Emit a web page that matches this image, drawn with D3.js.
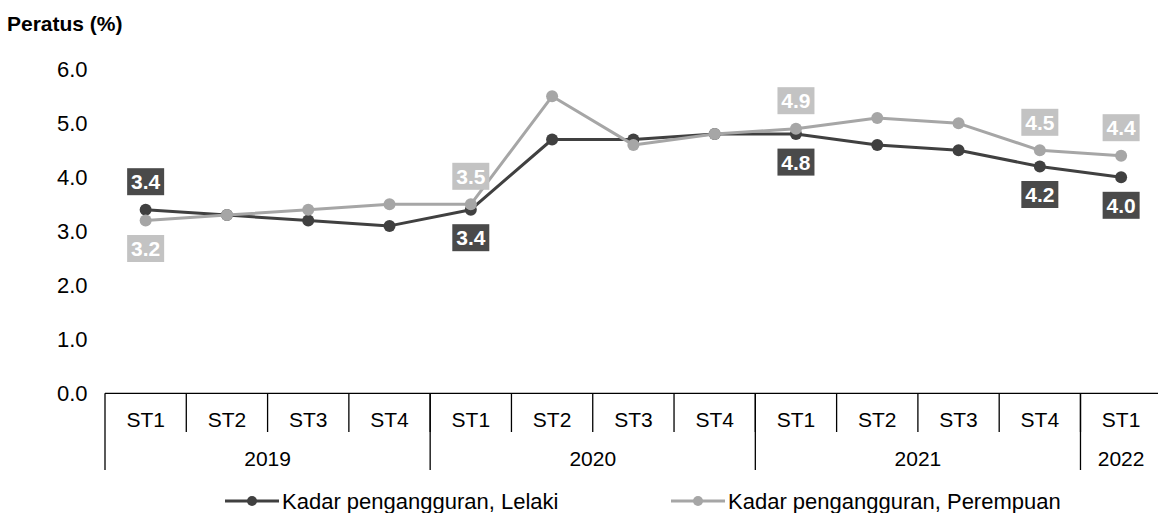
<!DOCTYPE html>
<html>
<head>
<meta charset="utf-8">
<script src="https://cdn.jsdelivr.net/npm/d3@7"></script>
<style>
  body { margin: 0; background: #fff; }
  text { font-family: "Liberation Sans", Arial, sans-serif; }
</style>
</head>
<body>
<div id="chart"></div>
<script>
const w = 1158;
const h = 513;

// data
const quarters = ["ST1","ST2","ST3","ST4","ST1","ST2","ST3","ST4","ST1","ST2","ST3","ST4","ST1"];
const years = ["2019","2020","2021","2022"];
const yearSpan = [4, 4, 4, 1];
const lelaki = [3.4,3.3,3.2,3.1,3.4,4.7,4.7,4.8,4.8,4.6,4.5,4.2,4.0];
const perempuan = [3.2,3.3,3.4,3.5,3.5,5.5,4.6,4.8,4.9,5.1,5.0,4.5,4.4];
const yTicks = [0,1,2,3,4,5,6];
const seriesNames = ["Kadar pengangguran, Lelaki", "Kadar pengangguran, Perempuan"];

// which points carry a value label (-1 above, +1 below)
const lelakiLabels = [[0,-1],[4,1],[8,1],[11,1],[12,1]];
const perempuanLabels = [[0,1],[4,-1],[8,-1],[11,-1],[12,-1]];

const darkLine = "#404040", lightLine = "#a6a6a6";
const darkBox = "#4a4a4a", lightBox = "#c3c3c3";

const left = 105, bandW = 81.29;
const axisY = 393.3;

const x = d3.scaleBand()
    .domain(d3.range(quarters.length))
    .range([left, left + bandW * quarters.length])
    .paddingInner(0).paddingOuter(0);

const y = d3.scaleLinear()
    .domain([0, 6])
    .range([axisY, axisY - 6 * 54]);

const cx = i => x(i) + x.bandwidth() / 2;

let svg = d3.select("#chart")
    .append("svg")
    .attr("width", w)
    .attr("height", h);

svg.append("text")
    .attr("x", 7)
    .attr("y", 31)
    .attr("font-size", 21)
    .attr("font-weight", "bold")
    .attr("fill", "#000")
    .text("Peratus (%)");

// y axis: labels only
const yAxis = d3.axisLeft(y).tickValues(yTicks).tickFormat(d3.format(".1f")).tickSize(0).tickPadding(0);
const yg = svg.append("g")
    .attr("transform", "translate(87.5,0)")
    .call(yAxis);
yg.select(".domain").remove();
yg.selectAll("text").attr("font-size", 22).attr("fill", "#000")
    .attr("font-family", "Liberation Sans, Arial, sans-serif");

// x axis line
svg.append("line")
    .attr("x1", left).attr("x2", w)
    .attr("y1", axisY).attr("y2", axisY)
    .attr("stroke", "#000").attr("stroke-width", 1.3);

// quarter separators
svg.selectAll(".qsep")
    .data(d3.range(1, quarters.length))
    .join("line")
    .attr("x1", d => x(d)).attr("x2", d => x(d))
    .attr("y1", axisY).attr("y2", 432)
    .attr("stroke", "#000").attr("stroke-width", 1.3);

svg.selectAll(".qlab")
    .data(quarters)
    .join("text")
    .attr("x", (d, i) => cx(i))
    .attr("y", 426.5)
    .attr("text-anchor", "middle")
    .attr("font-size", 21)
    .text(d => d);

// year separators and labels
let start = 0;
const yearStarts = yearSpan.map(s => { const a = start; start += s; return a; });
svg.selectAll(".ysep")
    .data(yearStarts)
    .join("line")
    .attr("x1", d => x(d)).attr("x2", d => x(d))
    .attr("y1", axisY).attr("y2", 470)
    .attr("stroke", "#000").attr("stroke-width", 1.3);

svg.selectAll(".ylab")
    .data(years)
    .join("text")
    .attr("x", (d, i) => (x(yearStarts[i]) + x(yearStarts[i] + yearSpan[i] - 1) + x.bandwidth()) / 2)
    .attr("y", 465.5)
    .attr("text-anchor", "middle")
    .attr("font-size", 21)
    .text(d => d);

function drawSeries(values, color) {
    const line = d3.line().x((d, i) => cx(i)).y(d => y(d));
    svg.append("path")
        .datum(values)
        .attr("d", line)
        .attr("fill", "none")
        .attr("stroke", color)
        .attr("stroke-width", 3)
        .attr("stroke-linejoin", "round");
    svg.append("g").selectAll("circle")
        .data(values)
        .join("circle")
        .attr("cx", (d, i) => cx(i))
        .attr("cy", d => y(d))
        .attr("r", 6)
        .attr("fill", color);
}

function drawLabels(values, labels, bg) {
    labels.forEach(([i, side]) => {
        const px = cx(i), py = y(values[i]) + side * 28;
        svg.append("rect")
            .attr("x", px - 18.5).attr("y", py - 13.5)
            .attr("width", 37).attr("height", 27)
            .attr("fill", bg);
        svg.append("text")
            .attr("x", px).attr("y", py + 7.5)
            .attr("text-anchor", "middle")
            .attr("font-size", 21)
            .attr("font-weight", "bold")
            .attr("fill", "#fff")
            .text(values[i].toFixed(1));
    });
}

drawSeries(lelaki, darkLine);
drawSeries(perempuan, lightLine);
drawLabels(lelaki, lelakiLabels, darkBox);
drawLabels(perempuan, perempuanLabels, lightBox);

// legend
const legend = [[225, darkLine], [671, lightLine]];
legend.forEach(([lx, color], k) => {
    svg.append("line")
        .attr("x1", lx).attr("x2", lx + 54)
        .attr("y1", 501).attr("y2", 501)
        .attr("stroke", color).attr("stroke-width", 3);
    svg.append("circle")
        .attr("cx", lx + 27).attr("cy", 501).attr("r", 5)
        .attr("fill", color);
    svg.append("text")
        .attr("x", lx + 57).attr("y", 509)
        .attr("font-size", 22)
        .text(seriesNames[k]);
});
</script>
</body>
</html>
